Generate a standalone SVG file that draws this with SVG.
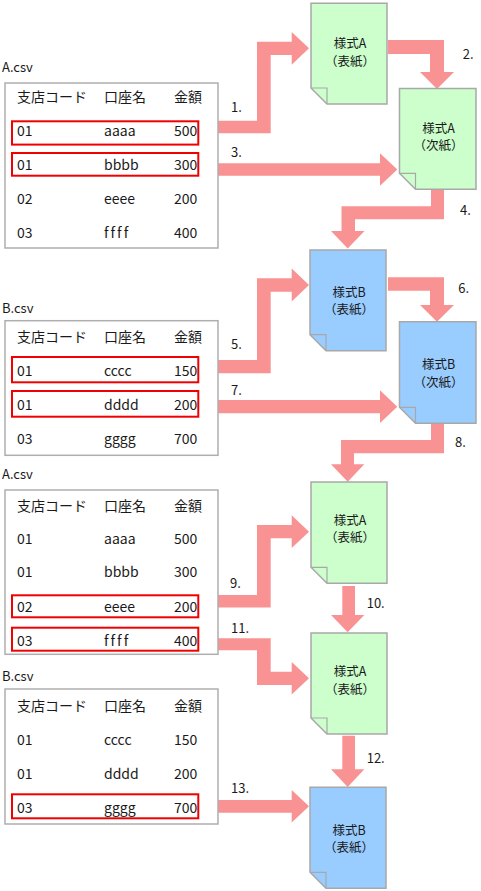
<svg xmlns="http://www.w3.org/2000/svg" width="481" height="891" viewBox="0 0 481 891">
<style>
text{font-family:"Noto Sans CJK JP","Noto Sans",sans-serif;fill:#1a1a1a}
.t{font-size:14px}
.l{font-size:13px}
.d{font-size:12.5px;text-anchor:middle}
.tbl{fill:#fff;stroke:#aeaeae;stroke-width:1.5}
.sel{fill:none;stroke:#f00000;stroke-width:2}
.arr{fill:#f99393;stroke:none}
.ga{fill:#ccffcc;stroke:#a8a8a8;stroke-width:1.5}
.bl{fill:#99ccff;stroke:#a8a8a8;stroke-width:1.5}
.fold{fill:none;stroke:#a8a8a8;stroke-width:1.2}
</style>

<g id="connectors">
<polygon class="arr" points="200,120.7 257,120.7 257,41.7 291.7,41.7 291.7,31.9 309,48.3 291.7,64.7 291.7,55 270.7,55 270.7,133.3 200,133.3"/>
<polygon class="arr" points="388,40 444,40 444,72 454,72 437,89 420,72 430,72 430,54 388,54"/>
<polygon class="arr" points="200,163.3 380,163.3 380,153.2 397.3,169.5 380,185.8 380,175.7 200,175.7"/>
<polygon class="arr" points="431,190 444,190 444,219.3 355,219.3 355,231 364.5,231 347.7,248.5 331,231 341.5,231 341.5,206.3 431,206.3"/>
<polygon class="arr" points="200,360 257,360 257,278.3 291.7,278.3 291.7,268.6 309,285 291.7,301.4 291.7,291.7 270.7,291.7 270.7,373.3 200,373.3"/>
<polygon class="arr" points="388,277.3 444,277.3 444,305 454,305 437,321.7 420,305 430,305 430,290.7 388,290.7"/>
<polygon class="arr" points="200,400 380,400 380,390.3 397.3,406.7 380,423.1 380,413.3 200,413.3"/>
<polygon class="arr" points="431,424 444,424 444,453.3 354,453.3 354,464.3 364.3,464.3 347.7,481.7 331,464.3 341,464.3 341,440 431,440"/>
<polygon class="arr" points="200,595 257,595 257,525 291.7,525 291.7,515.3 309,531.7 291.7,548.1 291.7,538.3 270.7,538.3 270.7,607.5 200,607.5"/>
<polygon class="arr" points="342.3,586 355,586 355,615 364.3,615 347.7,632.3 331,615 342.3,615"/>
<polygon class="arr" points="200,638.3 270.7,638.3 270.7,671.7 291.7,671.7 291.7,662 309,678.3 291.7,694.6 291.7,685 257,685 257,650.3 200,650.3"/>
<polygon class="arr" points="342.3,735.7 355,735.7 355,769.3 364.3,769.3 347.7,787 331,769.3 342.3,769.3"/>
<polygon class="arr" points="200,800 291.7,800 291.7,790 309,806.3 291.7,822.6 291.7,812.7 200,812.7"/>
</g>

<g id="labels">
<text class="l" x="231" y="111.7">1.</text>
<text class="l" x="462.7" y="59.3">2.</text>
<text class="l" x="231" y="156.7">3.</text>
<text class="l" x="460" y="215">4.</text>
<text class="l" x="231" y="349.3">5.</text>
<text class="l" x="458.3" y="292.7">6.</text>
<text class="l" x="231" y="395">7.</text>
<text class="l" x="455" y="447">8.</text>
<text class="l" x="230" y="588.3">9.</text>
<text class="l" x="366.7" y="607.7">10.</text>
<text class="l" x="231" y="633.3">11.</text>
<text class="l" x="366.7" y="762.7">12.</text>
<text class="l" x="231" y="793.3">13.</text>
</g>

<g id="tableA1">
<text class="l" x="2" y="72">A.csv</text>
<rect class="tbl" x="5" y="83" width="213" height="165"/>
<text class="t" x="17" y="102">支店コード</text><text class="t" x="104" y="102">口座名</text><text class="t" x="174" y="102">金額</text>
<text class="t" x="17" y="136">01</text><text class="t" x="104" y="136">aaaa</text><text class="t" x="174" y="136">500</text>
<text class="t" x="17" y="170">01</text><text class="t" x="104" y="170">bbbb</text><text class="t" x="174" y="170">300</text>
<text class="t" x="17" y="204">02</text><text class="t" x="104" y="204">eeee</text><text class="t" x="174" y="204">200</text>
<text class="t" x="17" y="238">03</text><text class="t" x="104" y="238" letter-spacing="2">ffff</text><text class="t" x="174" y="238">400</text>
<rect class="sel" x="12" y="121.3" width="186.3" height="23.3"/>
<rect class="sel" x="12" y="153" width="186.3" height="22.7"/>
</g>

<g id="tableB1">
<text class="l" x="2" y="312.7">B.csv</text>
<rect class="tbl" x="5" y="320.7" width="213" height="134.6"/>
<text class="t" x="17" y="342">支店コード</text><text class="t" x="104" y="342">口座名</text><text class="t" x="174" y="342">金額</text>
<text class="t" x="17" y="376">01</text><text class="t" x="104" y="376">cccc</text><text class="t" x="174" y="376">150</text>
<text class="t" x="17" y="410">01</text><text class="t" x="104" y="410">dddd</text><text class="t" x="174" y="410">200</text>
<text class="t" x="17" y="444">03</text><text class="t" x="104" y="444">gggg</text><text class="t" x="174" y="444">700</text>
<rect class="sel" x="12" y="357" width="186.3" height="25.3"/>
<rect class="sel" x="12" y="391" width="186.3" height="25.7"/>
</g>

<g id="tableA2">
<text class="l" x="2" y="478.5">A.csv</text>
<rect class="tbl" x="5" y="490" width="213" height="164.3"/>
<text class="t" x="17" y="511">支店コード</text><text class="t" x="104" y="511">口座名</text><text class="t" x="174" y="511">金額</text>
<text class="t" x="17" y="543.5">01</text><text class="t" x="104" y="543.5">aaaa</text><text class="t" x="174" y="543.5">500</text>
<text class="t" x="17" y="577.3">01</text><text class="t" x="104" y="577.3">bbbb</text><text class="t" x="174" y="577.3">300</text>
<text class="t" x="17" y="611.7">02</text><text class="t" x="104" y="611.7">eeee</text><text class="t" x="174" y="611.7">200</text>
<text class="t" x="17" y="645.7">03</text><text class="t" x="104" y="645.7" letter-spacing="2">ffff</text><text class="t" x="174" y="645.7">400</text>
<rect class="sel" x="12" y="595.3" width="186.3" height="22"/>
<rect class="sel" x="12" y="627.7" width="186.3" height="23"/>
</g>

<g id="tableB2">
<text class="l" x="2" y="680.7">B.csv</text>
<rect class="tbl" x="5" y="689" width="213" height="135"/>
<text class="t" x="17" y="711">支店コード</text><text class="t" x="104" y="711">口座名</text><text class="t" x="174" y="711">金額</text>
<text class="t" x="17" y="744.5">01</text><text class="t" x="104" y="744.5">cccc</text><text class="t" x="174" y="744.5">150</text>
<text class="t" x="17" y="778.5">01</text><text class="t" x="104" y="778.5">dddd</text><text class="t" x="174" y="778.5">200</text>
<text class="t" x="17" y="812.5">03</text><text class="t" x="104" y="812.5">gggg</text><text class="t" x="174" y="812.5">700</text>
<rect class="sel" x="12" y="794.3" width="186.3" height="24"/>
</g>

<g id="docA1">
<path class="ga" d="M311,3.3 H387 V104 H327 L311,88 Z"/>
<path class="fold" d="M311,88 H327 V104"/>
<text class="d" x="350" y="48">様式A</text>
<text class="d" x="350" y="65.5">（表紙）</text>
</g>
<g id="docA2">
<path class="ga" d="M399.5,88.5 H476 V189.3 H415.5 L399.5,173.3 Z"/>
<path class="fold" d="M399.5,173.3 H415.5 V189.3"/>
<text class="d" x="438.5" y="132.5">様式A</text>
<text class="d" x="438.5" y="150">（次紙）</text>
</g>
<g id="docB1">
<path class="bl" d="M310,250 H386 V350.7 H326 L310,334.7 Z"/>
<path class="fold" d="M310,334.7 H326 V350.7"/>
<text class="d" x="349" y="296.5">様式B</text>
<text class="d" x="349" y="314">（表紙）</text>
</g>
<g id="docB2">
<path class="bl" d="M399.5,321.7 H476 V423.3 H415.5 L399.5,407.3 Z"/>
<path class="fold" d="M399.5,407.3 H415.5 V423.3"/>
<text class="d" x="438.5" y="369">様式B</text>
<text class="d" x="438.5" y="386.5">（次紙）</text>
</g>
<g id="docA3">
<path class="ga" d="M311,482 H387 V583.3 H327 L311,567.3 Z"/>
<path class="fold" d="M311,567.3 H327 V583.3"/>
<text class="d" x="350" y="524.5">様式A</text>
<text class="d" x="350" y="542">（表紙）</text>
</g>
<g id="docA4">
<path class="ga" d="M311,633 H387 V734 H327 L311,718 Z"/>
<path class="fold" d="M311,718 H327 V734"/>
<text class="d" x="350" y="676">様式A</text>
<text class="d" x="350" y="693.5">（表紙）</text>
</g>
<g id="docB3">
<path class="bl" d="M310,787.3 H386 V888.3 H326 L310,872.3 Z"/>
<path class="fold" d="M310,872.3 H326 V888.3"/>
<text class="d" x="349" y="834.5">様式B</text>
<text class="d" x="349" y="852">（表紙）</text>
</g>
</svg>
